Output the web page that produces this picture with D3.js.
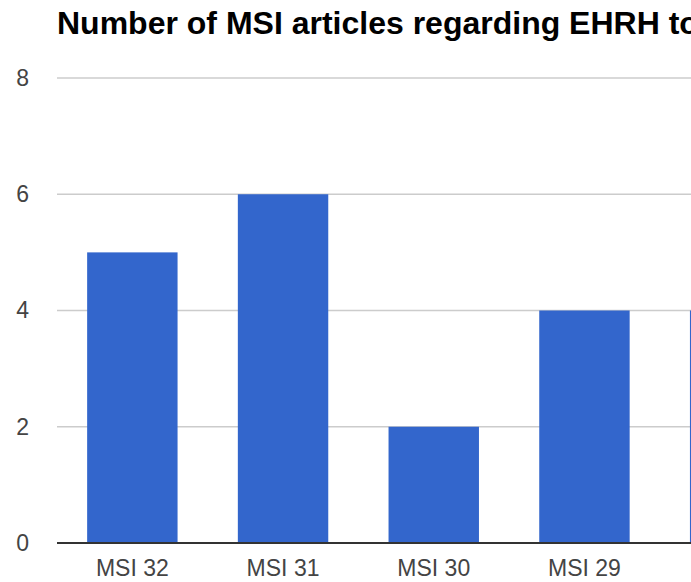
<!DOCTYPE html>
<html>
<head>
<meta charset="utf-8">
<script src="https://cdn.jsdelivr.net/npm/d3@7"></script>
<style>
  html, body { margin: 0; padding: 0; overflow: hidden; background: #fff; }
  #chart { width: 691px; height: 582px; overflow: hidden; }
</style>
</head>
<body>
<div id="chart"></div>
<script>
// Data (the chart is cut off at the right edge)
const categories = ["MSI 32", "MSI 31", "MSI 30", "MSI 29", "MSI 28"];
const articleCounts = [5, 6, 2, 4, 4];
const yTicks = [0, 2, 4, 6, 8];
const title = "Number of MSI articles regarding EHRH topics";

// Plot area, the full chart is wider than the window
const margin = { top: 78, left: 57 };
const plotW = 753.5, plotH = 465;
const fullW = 900;

const svg = d3.select("#chart")
  .append("svg")
  .attr("width", fullW)
  .attr("height", 582)
  .style("font-family", "Arial, 'Liberation Sans', sans-serif");

const x = d3.scaleBand()
  .domain(categories)
  .range([margin.left, margin.left + plotW])
  .paddingInner(0.4)
  .paddingOuter(0.2);

const y = d3.scaleLinear()
  .domain([0, 8])
  .range([margin.top + plotH, margin.top]);

// title
svg.append("text")
  .attr("x", 57)
  .attr("y", 34)
  .attr("font-size", "32px")
  .attr("font-weight", "bold")
  .attr("fill", "#000")
  .text(title);

// gridlines
svg.append("g")
  .selectAll("line")
  .data(yTicks.filter(d => d > 0))
  .join("line")
  .attr("x1", margin.left)
  .attr("x2", fullW)
  .attr("y1", d => y(d))
  .attr("y2", d => y(d))
  .attr("stroke", "#cccccc")
  .attr("stroke-width", 1.5);

// y axis labels
const yAxis = svg.append("g")
  .attr("transform", "translate(29,0)")
  .call(d3.axisLeft(y).tickValues(yTicks).tickSize(0).tickPadding(0));
yAxis.select(".domain").remove();
yAxis.selectAll("text")
  .attr("font-size", "23px")
  .attr("font-family", "Arial, 'Liberation Sans', sans-serif")
  .attr("fill", "#444");

// bars
svg.append("g")
  .selectAll("rect")
  .data(categories)
  .join("rect")
  .attr("x", d => x(d))
  .attr("width", x.bandwidth())
  .attr("y", (d, i) => y(articleCounts[i]))
  .attr("height", (d, i) => y(0) - y(articleCounts[i]))
  .attr("fill", "#3366cc");

// baseline
svg.append("line")
  .attr("x1", margin.left)
  .attr("x2", fullW)
  .attr("y1", y(0))
  .attr("y2", y(0))
  .attr("stroke", "#333")
  .attr("stroke-width", 2);

// x axis labels
const xAxis = svg.append("g")
  .attr("transform", `translate(0,${y(0)})`)
  .call(d3.axisBottom(x).tickSize(0).tickPadding(17));
xAxis.select(".domain").remove();
xAxis.selectAll("text")
  .attr("font-size", "23px")
  .attr("font-family", "Arial, 'Liberation Sans', sans-serif")
  .attr("fill", "#444");
</script>
</body>
</html>
